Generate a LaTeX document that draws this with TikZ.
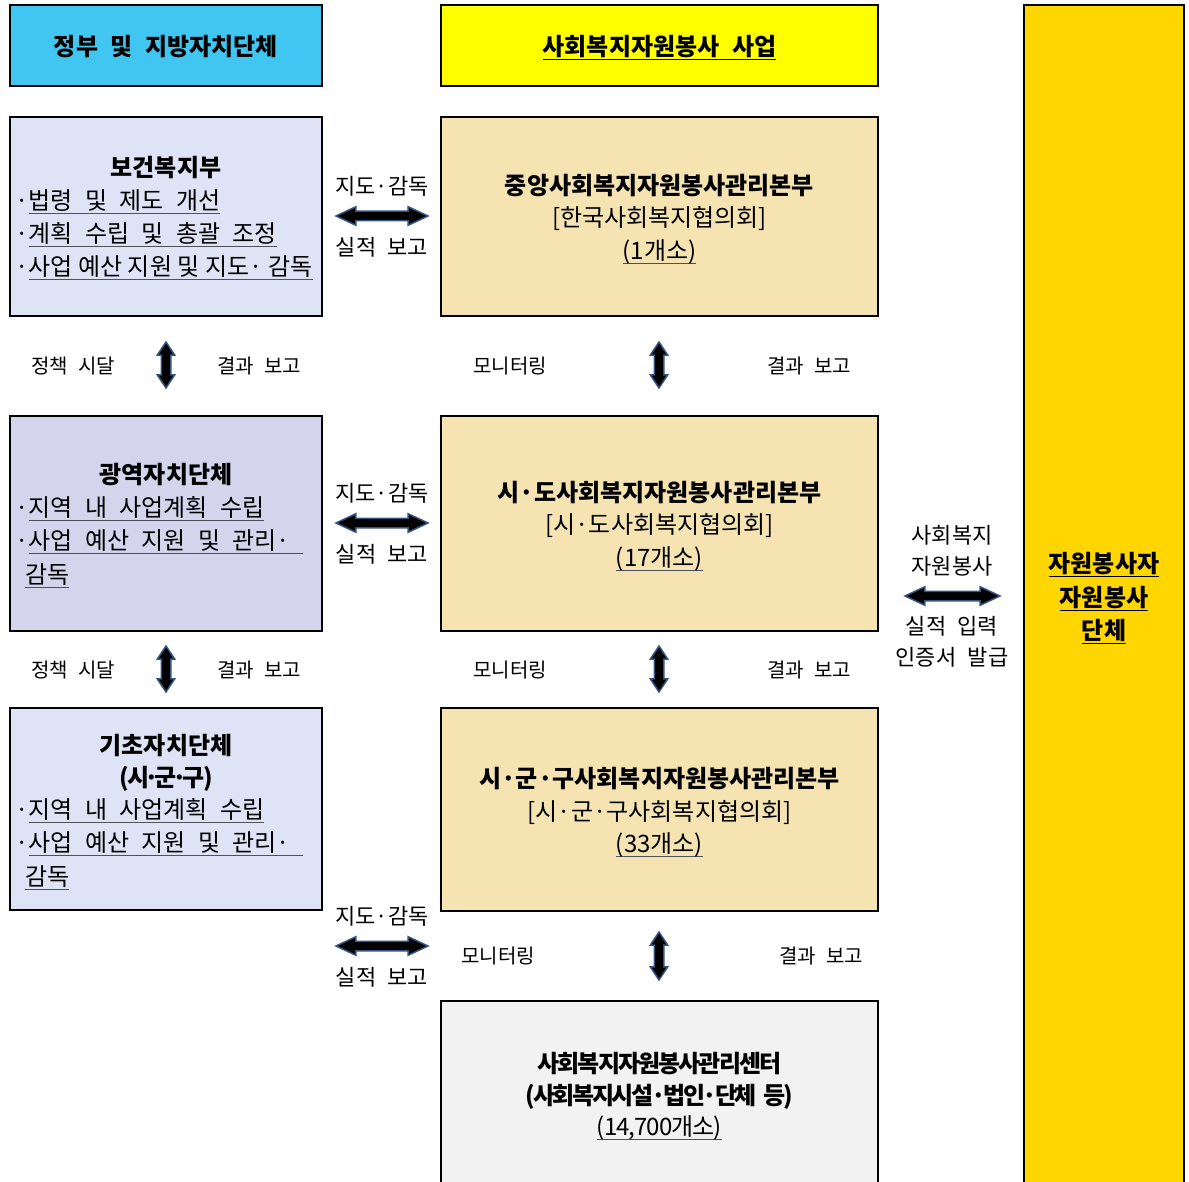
\documentclass[tikz,border=0pt]{standalone}
\usepackage{fontspec}
\setmainfont{Noto Sans CJK KR}[WordSpace=2.3]
\usetikzlibrary{shapes.arrows}
\definecolor{hdrblue}{RGB}{64,198,240}
\definecolor{hdryellow}{RGB}{255,255,0}
\definecolor{gold}{RGB}{255,214,0}
\definecolor{lav}{RGB}{222,228,246}
\definecolor{lavb}{RGB}{212,212,236}
\definecolor{wheat}{RGB}{245,228,178}
\definecolor{lgray}{RGB}{242,242,242}
\definecolor{arrowedge}{RGB}{52,84,130}
\definecolor{ulgray}{RGB}{80,80,90}
\newcommand\myul[2][ulgray]{\setbox0\hbox{#2}\rlap{\textcolor{#1}{\rule[-0.22em]{\wd0}{0.08em}}}\box0}
\tikzset{
  box/.style={draw=black, line width=2.5pt, inner sep=0pt, outer sep=0pt, anchor=north west},
  ttl/.style={font=\fontsize{24}{28}\selectfont\bfseries, inner sep=0pt, text height=20pt, text depth=1.7pt},
  bdy/.style={font=\fontsize{24}{28}\selectfont, inner sep=0pt, text height=20pt, text depth=1.7pt},
  lab/.style={font=\fontsize{22}{26}\selectfont, inner sep=0pt, text height=18.3pt, text depth=1.6pt},
  slab/.style={font=\fontsize{20}{24}\selectfont, inner sep=0pt, text height=16.6pt, text depth=1.4pt},
  harrow/.style={double arrow, fill=black, draw=arrowedge, line width=1.5pt, inner sep=4pt, outer sep=0pt,
    minimum height=92pt, double arrow head extend=4.5pt, double arrow tip angle=50},
  varrow/.style={double arrow, shape border rotate=90, fill=black, draw=arrowedge, line width=1.5pt, inner sep=4pt, outer sep=0pt,
    minimum height=46pt, double arrow head extend=4pt, double arrow tip angle=67},
}
\begin{document}
\begin{tikzpicture}[x=1pt,y=-1pt]
\useasboundingbox (0,0) rectangle (1189,1182);
% boxes
\node[box, fill=hdrblue, minimum width=312pt, minimum height=81pt] (hdrA) at (10,5) {};
\node[box, fill=hdryellow, minimum width=437pt, minimum height=81pt] (hdrB) at (441,5) {};
\node[box, fill=gold, minimum width=160pt, minimum height=1190pt] (vol) at (1024,5) {};
\node[box, fill=lav, minimum width=312pt, minimum height=199pt] (L1) at (10,117) {};
\node[box, fill=lavb, minimum width=312pt, minimum height=215pt] (L2) at (10,416) {};
\node[box, fill=lav, minimum width=312pt, minimum height=202pt] (L3) at (10,708) {};
\node[box, fill=wheat, minimum width=437pt, minimum height=199pt] (M1) at (441,117) {};
\node[box, fill=wheat, minimum width=437pt, minimum height=215pt] (M2) at (441,416) {};
\node[box, fill=wheat, minimum width=437pt, minimum height=203pt] (M3) at (441,708) {};
\node[box, fill=lgray, minimum width=437pt, minimum height=200pt] (M4) at (441,1001) {};
% header texts
\node[ttl] (tA) at (166,46) {정부 및 지방자치단체};
\node[ttl] (tB) at (659.5,46) {\myul[black]{사회복지자원봉사 사업}};
\node[ttl] (tC1) at (1104,563) {\myul[black]{자원봉사자}};
\node[ttl] (tC2) at (1104,597) {\myul[black]{자원봉사}};
\node[ttl] (tC3) at (1104,630) {\myul[black]{단체}};
% L1
\node[ttl] (L1t) at (166,167) {보건복지부};
\node[bdy, anchor=west] (L1a) at (15,200) {·\myul{법령 및 제도 개선}};
\node[bdy, anchor=west] (L1b) at (15,233) {·\myul{계획 수립 및 총괄 조정}};
\node[bdy, anchor=west] (L1c) at (15,266) {\spaceskip=5.5pt\relax ·\myul{사업 예산 지원 및 지도· 감독}};
% L2
\node[ttl] (L2t) at (166,474) {광역자치단체};
\node[bdy, anchor=west] (L2a) at (15,507) {·\myul{지역 내 사업계획 수립}};
\node[bdy, anchor=west] (L2b) at (15,540) {·\myul{사업 예산 지원 및 관리·\ }};
\node[bdy, anchor=west] (L2c) at (25,574) {\myul{감독}};
% L3
\node[ttl] (L3t) at (166,745) {기초자치단체};
\node[ttl] (L3u) at (166,777) {\addfontfeature{LetterSpace=-6}(시\kern-4.5pt·\kern-4.5pt군\kern-4.5pt·\kern-4.5pt구)};
\node[bdy, anchor=west] (L3a) at (15,809) {·\myul{지역 내 사업계획 수립}};
\node[bdy, anchor=west] (L3b) at (15,842) {·\myul{사업 예산 지원 및 관리·\ }};
\node[bdy, anchor=west] (L3c) at (25,876) {\myul{감독}};
% M1
\node[ttl] (M1t) at (659.5,185) {중앙사회복지자원봉사관리본부};
\node[bdy] (M1a) at (659.5,217) {[한국사회복지협의회]};
\node[bdy] (M1b) at (659.5,250) {\myul{(1개소)}};
% M2
\node[ttl] (M2t) at (659.5,492) {시·도사회복지자원봉사관리본부};
\node[bdy] (M2a) at (659.5,524) {[시·도사회복지협의회]};
\node[bdy] (M2b) at (659.5,557) {\myul{(17개소)}};
% M3
\node[ttl] (M3t) at (659.5,778) {시·군·구사회복지자원봉사관리본부};
\node[bdy] (M3a) at (659.5,811) {[시·군·구사회복지협의회]};
\node[bdy] (M3b) at (659.5,843) {\myul{(33개소)}};
% M4
\node[ttl] (M4t) at (659.5,1063) {\addfontfeature{LetterSpace=-8}사회복지자원봉사관리센터};
\node[ttl] (M4a) at (659.5,1095) {\addfontfeature{LetterSpace=-10}(사회복지시설·법인·단체 등)};
\node[bdy] (M4b) at (659.5,1126) {\addfontfeature{LetterSpace=-4}\myul{(14,700개소)}};
% horizontal arrows and labels
\node[lab] (h1u) at (382,186) {지도·감독};
\node[harrow] (h1) at (382,216) {};
\node[lab] (h1d) at (382,247) {실적 보고};
\node[lab] (h2u) at (382,493) {지도·감독};
\node[harrow] (h2) at (382,523) {};
\node[lab] (h2d) at (382,554) {실적 보고};
\node[lab] (h3u) at (382,916) {지도·감독};
\node[harrow] (h3) at (382,946) {};
\node[lab] (h3d) at (382,977) {실적 보고};
\node[lab] (r1) at (952,535) {사회복지};
\node[lab] (r2) at (952,566) {자원봉사};
\node[harrow, minimum height=95pt] (h4) at (952.5,596) {};
\node[lab] (r3) at (952,626) {실적 입력};
\node[lab] (r4) at (952,657) {인증서 발급};
% vertical arrows and labels
\node[varrow] (v1) at (166,365) {};
\node[slab] (v1l) at (73,366) {정책 시달};
\node[slab] (v1r) at (259,366) {결과 보고};
\node[varrow] (v2) at (166,669) {};
\node[slab] (v2l) at (73,670) {정책 시달};
\node[slab] (v2r) at (259,670) {결과 보고};
\node[varrow] (v3) at (659,365) {};
\node[slab] (v3l) at (510,366) {모니터링};
\node[slab] (v3r) at (809,366) {결과 보고};
\node[varrow] (v4) at (659,669) {};
\node[slab] (v4l) at (510,670) {모니터링};
\node[slab] (v4r) at (809,670) {결과 보고};
\node[varrow, minimum height=48pt] (v5) at (659,956) {};
\node[slab] (v5l) at (498,956) {모니터링};
\node[slab] (v5r) at (821,956) {결과 보고};
\end{tikzpicture}
\end{document}
